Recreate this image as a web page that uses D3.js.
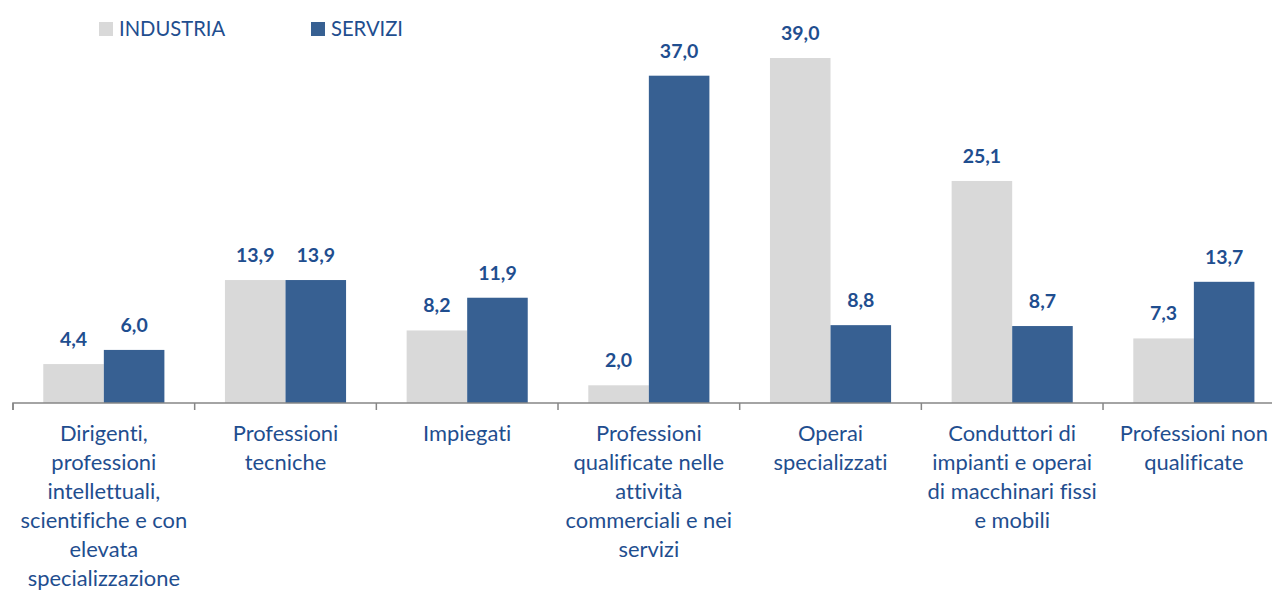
<!DOCTYPE html>
<html>
<head>
	<meta charset="utf-8">
	<title>Industria e servizi per professione</title>
	<script src="https://d3js.org/d3.v7.min.js"></script>
	<style>
		body { margin: 0; background: #fff; }
		svg { display: block; font-family: Lato, "Open Sans", sans-serif; font-variant-ligatures: none; }
	</style>
</head>
<body>
<div id="chart"></div>
<script type="text/javascript">

	// categories (each one split in its printed lines)
	var categories = [
		["Dirigenti,", "professioni", "intellettuali,", "scientifiche e con", "elevata", "specializzazione"],
		["Professioni", "tecniche"],
		["Impiegati"],
		["Professioni", "qualificate nelle", "attività", "commerciali e nei", "servizi"],
		["Operai", "specializzati"],
		["Conduttori di", "impianti e operai", "di macchinari fissi", "e mobili"],
		["Professioni non", "qualificate"]
	];
	var seriesNames = ["INDUSTRIA", "SERVIZI"];
	var industria = [4.4, 13.9, 8.2, 2.0, 39.0, 25.1, 7.3];
	var servizi = [6.0, 13.9, 11.9, 37.0, 8.8, 8.7, 13.7];
	var colors = ["#d9d9d9", "#376092"];

	var width = 1272, height = 592;
	var textColor = "#1f4e8f";

	var svg = d3.select("#chart").append("svg")
		.attr("width", width)
		.attr("height", height);

	var rows = categories.map(function(c, i) {
		return {i: i, lines: c, values: [industria[i], servizi[i]]};
	});

	// scales
	var x0 = d3.scaleBand()
		.domain(d3.range(categories.length))
		.range([13, 1284.7])
		.padding(0);

	var x1 = d3.scaleBand()
		.domain([0, 1])
		.range([0, x0.bandwidth()])
		.paddingInner(0)
		.paddingOuter(0.5);

	var y = d3.scaleLinear()
		.domain([0, 39])
		.range([403, 58]);

	// bars
	var groups = svg.append("g").selectAll("g")
		.data(rows)
		.enter()
		.append("g")
		.attr("transform", function(d) { return "translate(" + x0(d.i) + ",0)"; });

	groups.selectAll("rect")
		.data(function(d) { return d.values.map(function(v, k) { return {k: k, v: v}; }); })
		.enter()
		.append("rect")
		.attr("x", function(d) { return x1(d.k); })
		.attr("y", function(d) { return y(d.v); })
		.attr("width", x1.bandwidth())
		.attr("height", function(d) { return y(0) - y(d.v); })
		.style("fill", function(d) { return colors[d.k]; });

	// value labels
	groups.selectAll("text.val")
		.data(function(d) { return d.values.map(function(v, k) { return {k: k, v: v}; }); })
		.enter()
		.append("text")
		.attr("class", "val")
		.attr("x", function(d) { return x1(d.k) + x1.bandwidth() / 2; })
		.attr("y", function(d) { return y(d.v) - 18; })
		.attr("text-anchor", "middle")
		.style("font-size", "19.5px")
		.style("font-weight", "bold")
		.style("fill", textColor)
		.text(function(d) { return d.v.toFixed(1).replace(".", ","); });

	// x axis
	var xAxis = d3.axisBottom(x0)
		.tickSize(7)
		.tickFormat("");

	var axisG = svg.append("g")
		.attr("transform", "translate(0," + y(0) + ")")
		.call(xAxis);

	axisG.select(".domain")
		.attr("d", "M" + x0.range()[0] + ",7V0H" + x0.range()[1])
		.attr("stroke", "#868686")
		.attr("stroke-width", 1.5);

	// ticks at category boundaries instead of centers
	axisG.selectAll(".tick")
		.attr("transform", function(d) { return "translate(" + x0(d) + ",0)"; });
	axisG.selectAll(".tick line")
		.attr("stroke", "#868686")
		.attr("stroke-width", 1.5);

	// category labels
	var labels = svg.append("g").selectAll("text")
		.data(rows)
		.enter()
		.append("text")
		.attr("x", function(d) { return x0(d.i) + x0.bandwidth() / 2; })
		.attr("y", 441)
		.attr("text-anchor", "middle")
		.style("font-size", "21.9px")
		.style("fill", textColor);

	labels.selectAll("tspan")
		.data(function(d) { return d.lines; })
		.enter()
		.append("tspan")
		.attr("x", function() { return d3.select(this.parentNode).attr("x"); })
		.attr("dy", function(d, j) { return j === 0 ? 0 : 28.9; })
		.text(function(d) { return d; });

	// legend
	var legendX = [99, 311];
	var legend = svg.append("g").selectAll("g")
		.data(seriesNames)
		.enter()
		.append("g")
		.attr("transform", function(d, k) { return "translate(" + legendX[k] + ",22)"; });

	legend.append("rect")
		.attr("width", 14)
		.attr("height", 14)
		.style("fill", function(d, k) { return colors[k]; });

	legend.append("text")
		.attr("x", 20)
		.attr("y", 14)
		.style("font-size", "20.2px")
		.style("fill", textColor)
		.text(function(d) { return d; });

</script>
</body>
</html>
